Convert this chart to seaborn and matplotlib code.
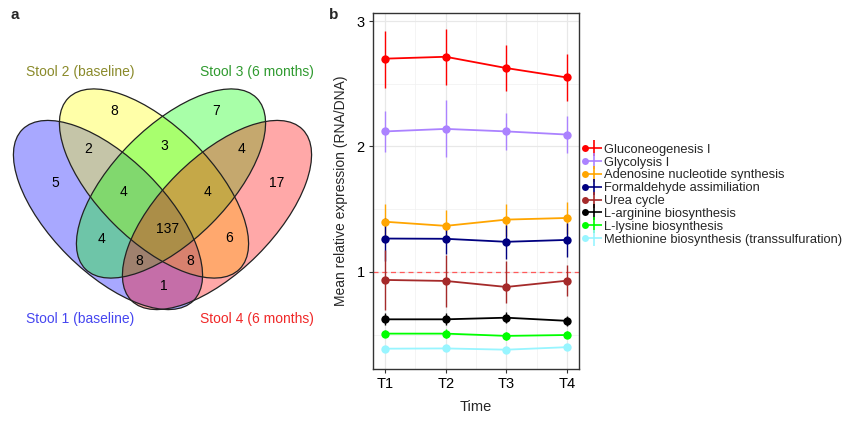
import numpy as np
import pandas as pd
import matplotlib
matplotlib.use('Agg')
import matplotlib.pyplot as plt
import seaborn as sns
from matplotlib.patches import Ellipse
from matplotlib.lines import Line2D
from matplotlib.legend_handler import HandlerTuple

# ---- data: panel a (Venn counts) ----
set_names = ['Stool 1 (baseline)', 'Stool 2 (baseline)', 'Stool 3 (6 months)', 'Stool 4 (6 months)']
set_colors = ['#0000FF', '#FFFF00', '#00FF00', '#FF0000']
label_colors = ['#4646f0', '#8a8a2a', '#2f9a2f', '#f02828']
region_counts = [5, 8, 7, 17, 2, 3, 4, 4, 4, 4, 137, 6, 8, 8, 1]

# ---- data: panel b (mean relative expression) ----
timepoints = ['T1', 'T2', 'T3', 'T4']
pathways = ['Gluconeogenesis I', 'Glycolysis I', 'Adenosine nucleotide synthesis',
            'Formaldehyde assimiliation', 'Urea cycle', 'L-arginine biosynthesis',
            'L-lysine biosynthesis', 'Methionine biosynthesis (transsulfuration)']
path_colors = ['#FF0000', '#AB82FF', '#FFA500', '#000080', '#A52A2A', '#000000', '#00FF00', '#98F5FF']

gluco_mean = [2.70, 2.715, 2.625, 2.55]
gluco_lo = [2.47, 2.49, 2.44, 2.36]
gluco_hi = [2.92, 2.94, 2.81, 2.74]
glyco_mean = [2.12, 2.14, 2.12, 2.095]
glyco_lo = [1.955, 1.915, 1.97, 1.95]
glyco_hi = [2.28, 2.37, 2.27, 2.24]
adeno_mean = [1.40, 1.367, 1.417, 1.43]
adeno_lo = [1.27, 1.24, 1.29, 1.30]
adeno_hi = [1.54, 1.49, 1.54, 1.56]
formal_mean = [1.266, 1.264, 1.24, 1.255]
formal_lo = [1.09, 1.14, 1.105, 1.12]
formal_hi = [1.43, 1.39, 1.37, 1.39]
urea_mean = [0.936, 0.928, 0.88, 0.93]
urea_lo = [0.70, 0.72, 0.75, 0.81]
urea_hi = [1.175, 1.135, 1.09, 1.056]
arg_mean = [0.622, 0.622, 0.635, 0.61]
arg_lo = [0.577, 0.58, 0.59, 0.57]
arg_hi = [0.675, 0.67, 0.68, 0.65]
lys_mean = [0.508, 0.508, 0.49, 0.497]
lys_lo = [0.48, 0.475, 0.46, 0.47]
lys_hi = [0.54, 0.545, 0.52, 0.53]
met_mean = [0.388, 0.39, 0.38, 0.40]
met_lo = [0.375, 0.377, 0.368, 0.386]
met_hi = [0.40, 0.404, 0.393, 0.414]

means = [gluco_mean, glyco_mean, adeno_mean, formal_mean, urea_mean, arg_mean, lys_mean, met_mean]
lows = [gluco_lo, glyco_lo, adeno_lo, formal_lo, urea_lo, arg_lo, lys_lo, met_lo]
highs = [gluco_hi, glyco_hi, adeno_hi, formal_hi, urea_hi, arg_hi, lys_hi, met_hi]

sns.set_theme(style='white')
plt.rcParams['font.family'] = ['Liberation Sans', 'DejaVu Sans']

fig = plt.figure(figsize=(8.48, 4.22), dpi=100)

# ================= panel a: Venn diagram =================
ax_a = fig.add_axes([0, 0, 330 / 848, 1])
ax_a.set_xlim(0, 330)
ax_a.set_ylim(422, 0)
ax_a.axis('off')

# ellipse layout (pixel-like units, y pointing down)
ell_centers = [(108, 215), (154, 183.5), (171, 183.5), (217, 215)]
ell_angles = [45, 45, -45, -45]
ell_w, ell_h = 242, 114
for (cx, cy), ang, col in zip(ell_centers, ell_angles, set_colors):
    ax_a.add_patch(Ellipse((cx, cy), ell_w, ell_h, angle=ang, facecolor=col, alpha=0.34, edgecolor='none'))
for (cx, cy), ang in zip(ell_centers, ell_angles):
    ax_a.add_patch(Ellipse((cx, cy), ell_w, ell_h, angle=ang, facecolor='none', edgecolor='#222222', lw=0.9))

region_pos = [(55, 183), (114, 111), (216, 111), (277, 183), (88, 149), (164, 146), (241, 149),
              (123, 192), (207, 192), (102, 239), (168, 229), (229, 238), (139, 261), (190, 261), (164, 286)]
for (x, y), n in zip(region_pos, region_counts):
    ax_a.text(x, y, str(n), ha='center', va='center', fontsize=10, color='black')

label_pos = [(80, 319), (80, 72), (257, 72), (257, 319)]
for (x, y), name, col in zip(label_pos, set_names, label_colors):
    ax_a.text(x, y, name, ha='center', va='center', fontsize=10, color=col)

fig.text(15 / 848, 1 - 15 / 422, 'a', fontsize=11, fontweight='bold', ha='center', va='center')
fig.text(334 / 848, 1 - 15 / 422, 'b', fontsize=11, fontweight='bold', ha='center', va='center')

# ================= panel b: line plot =================
rows = []
for name, m in zip(pathways, means):
    for i, t in enumerate(timepoints):
        rows.append({'pathway': name, 'x': i + 1, 'mean': m[i]})
df = pd.DataFrame(rows)

ax = fig.add_axes([373 / 848, 53 / 422, 206 / 848, 356 / 422])
ax.set_xlim(0.8, 4.2)
ax.set_ylim(0.226, 3.064)

# ggplot-like grid
for v in [0.5, 1.5, 2.5]:
    ax.axhline(v, color='#f0f0f0', lw=0.5, zorder=0)
for v in [1.5, 2.5, 3.5]:
    ax.axvline(v, color='#f0f0f0', lw=0.5, zorder=0)
for v in [1, 2, 3]:
    ax.axhline(v, color='#e8e8e8', lw=0.9, zorder=0)
for v in [1, 2, 3, 4]:
    ax.axvline(v, color='#e8e8e8', lw=0.9, zorder=0)

ax.axhline(1, color='#ff5a5a', lw=0.9, ls=(0, (4, 3)), zorder=1)

sns.lineplot(data=df, x='x', y='mean', hue='pathway', palette=dict(zip(pathways, path_colors)),
             marker='o', markersize=6, markeredgewidth=0, linewidth=1.3, legend=False, ax=ax, zorder=3)
for name, col, m, lo, hi in zip(pathways, path_colors, means, lows, highs):
    x = np.arange(1, len(timepoints) + 1)
    m = np.array(m)
    ax.errorbar(x, m, yerr=[m - np.array(lo), np.array(hi) - m], fmt='none', ecolor=col,
                elinewidth=1.0, capsize=0, zorder=2)

ax.set_xticks([1, 2, 3, 4])
ax.set_xticklabels(timepoints)
ax.set_yticks([1, 2, 3])
ax.set_yticklabels(['1', '2', '3'])
ax.tick_params(axis='both', which='major', length=3, width=0.8, color='#333333',
               labelsize=10.5, labelcolor='black', pad=3, bottom=True, left=True)
ax.set_xlabel('Time', fontsize=10.5, labelpad=6)
ax.set_ylabel('Mean relative expression (RNA/DNA)', fontsize=10, labelpad=6)
for s in ax.spines.values():
    s.set_visible(True)
    s.set_color('#333333')
    s.set_linewidth(1.0)

handles = []
for col in path_colors:
    dot = Line2D([], [], marker='o', ms=5, color=col, ls='none', mew=0)
    cross = Line2D([], [], marker='+', ms=12, mew=1.2, color=col, ls='none')
    handles.append((dot, cross))
fig.legend(handles, pathways, handler_map={tuple: HandlerTuple(ndivide=None)},
           loc='upper left', bbox_to_anchor=(573 / 848, 1 - 136 / 422), frameon=False,
           fontsize=9.3, handlelength=1.3, handletextpad=0.5, labelspacing=0.06, borderpad=0.1)

fig.savefig('out.png', dpi=100)
